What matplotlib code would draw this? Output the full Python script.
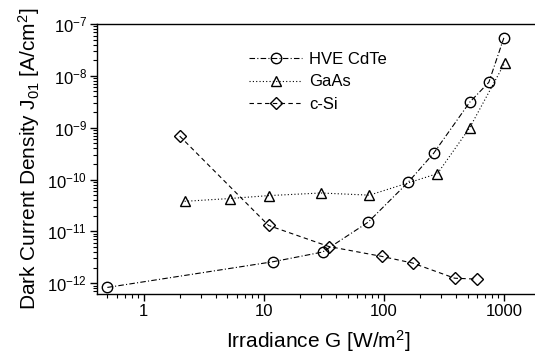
import matplotlib
matplotlib.use('Agg')
import matplotlib.pyplot as plt
import matplotlib.ticker as ticker
import numpy as np

# data
cdte_g = [0.5, 12, 31, 74, 160, 260, 520, 750, 1000]
cdte_j = [8.3e-13, 2.6e-12, 4.0e-12, 1.5e-11, 8.9e-11, 3.2e-10, 3.1e-9, 7.5e-9, 5.4e-8]

gaas_g = [2.2, 5.2, 11, 30, 76, 280, 520, 1020]
gaas_j = [3.8e-11, 4.3e-11, 4.9e-11, 5.5e-11, 5.0e-11, 1.3e-10, 1.0e-9, 1.8e-8]

csi_g = [2.0, 11, 35, 96, 174, 390, 596]
csi_j = [6.9e-10, 1.3e-11, 5.1e-12, 3.3e-12, 2.45e-12, 1.25e-12, 1.2e-12]

plt.rcParams['font.family'] = ['Liberation Sans', 'DejaVu Sans']
plt.rcParams['mathtext.fontset'] = 'custom'
plt.rcParams['mathtext.rm'] = 'Liberation Sans'
plt.rcParams['mathtext.it'] = 'Liberation Sans:italic'
plt.rcParams['mathtext.default'] = 'regular'

fig = plt.figure(figsize=(5.35, 3.58), dpi=100)
ax = fig.add_axes([97 / 535, 1 - 294 / 358, 443 / 535, 270 / 358])

mk = dict(color='black', mfc='none', mec='black', ms=7.5, mew=1.0, lw=0.8)
ax.plot(cdte_g, cdte_j, marker='o', linestyle=(0, (5, 2, 1, 2)), label='HVE CdTe', **mk)
ax.plot(gaas_g, gaas_j, marker='^', linestyle=(0, (1, 2)), label='GaAs', **mk)
ax.plot(csi_g, csi_j, marker='D', linestyle=(0, (4, 3)), label='c-Si',
        **{**mk, 'ms': 6.5})

ax.set_xscale('log')
ax.set_yscale('log')
ax.set_xlim(0.41, 2000)
ax.set_ylim(6.2e-13, 1e-7)

ax.xaxis.set_major_locator(ticker.FixedLocator([1, 10, 100, 1000]))
ax.xaxis.set_major_formatter(ticker.FixedFormatter(['1', '10', '100', '1000']))
ax.xaxis.set_minor_locator(ticker.LogLocator(base=10, subs=np.arange(2, 10)))
ax.xaxis.set_minor_formatter(ticker.NullFormatter())

yt = [1e-12, 1e-11, 1e-10, 1e-9, 1e-8, 1e-7]
ax.yaxis.set_major_locator(ticker.FixedLocator(yt))
ax.yaxis.set_major_formatter(ticker.FixedFormatter(
    ['$10^{-12}$', '$10^{-11}$', '$10^{-10}$', '$10^{-9}$', '$10^{-8}$', '$10^{-7}$']))
ax.yaxis.set_minor_locator(ticker.LogLocator(base=10, subs=np.arange(2, 10)))
ax.yaxis.set_minor_formatter(ticker.NullFormatter())

ax.tick_params(which='major', direction='out', length=5, width=1.0, labelsize=12)
ax.tick_params(which='minor', direction='out', length=3, width=0.8)
ax.tick_params(axis='y', pad=2)
ax.tick_params(axis='x', pad=2)
ax.spines['right'].set_visible(False)
for s in ['left', 'bottom', 'top']:
    ax.spines[s].set_linewidth(1.0)

ax.set_xlabel('Irradiance G [W/m$^2$]', fontsize=15, labelpad=7)
ax.set_ylabel('Dark Current Density J$_{01}$ [A/cm$^2$]', fontsize=15, labelpad=4)

ax.legend(loc='upper left', bbox_to_anchor=(234 / 535, 1 - 37 / 358),
          bbox_transform=fig.transFigure, frameon=False, fontsize=12,
          handlelength=3.2, handletextpad=0.4, labelspacing=0.45)

fig.savefig('out.png', dpi=100)
